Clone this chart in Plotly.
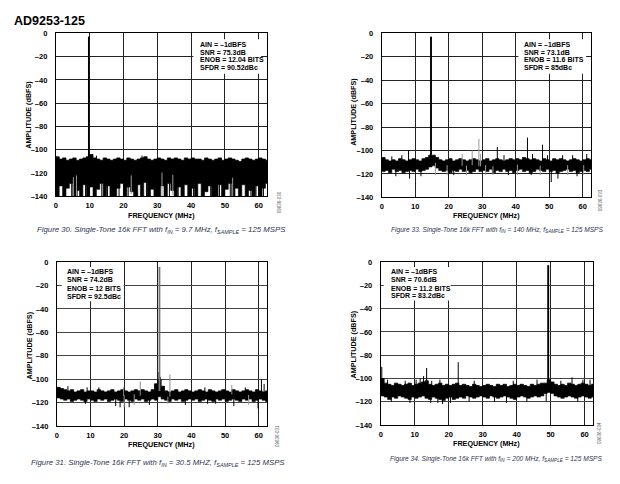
import plotly.graph_objects as go

W, H = 620, 484

# ---------------- data ----------------
freq_grid = list(range(63))  # MHz bins

# Panel A (Figure 30, fIN = 9.7 MHz)
upper_a = [-106,-108,-107,-109,-108,-107,-109,-108,-107,-106,
           -104,-107,-108,-109,-107,-108,-109,-108,-107,-108,
           -109,-107,-108,-109,-108,-107,-106,-108,-109,-108,
           -107,-108,-109,-107,-108,-107,-108,-109,-107,-108,
           -107,-108,-108,-109,-107,-108,-109,-108,-107,-109,
           -108,-107,-108,-109,-110,-108,-107,-108,-109,-108,
           -107,-108,-109]
lower_a = [-140,-131,-140,-133,-129,-140,-135,-140,-130,-140,
           -132,-140,-134,-129,-140,-131,-140,-140,-133,-129,
           -140,-132,-136,-140,-130,-140,-128,-140,-134,-140,
           -140,-131,-140,-129,-135,-140,-132,-140,-130,-140,
           -133,-140,-129,-140,-136,-131,-140,-140,-130,-140,
           -134,-129,-140,-133,-140,-130,-140,-135,-140,-131,
           -140,-133,-129]
up_a_f = [9.7, 12.0, 25.5]
up_a_v = [-2.8, -105, -105]
dn_a_f = [0.6, 2.4, 4.7, 6.3, 8.8, 11.2, 13.6, 15.3, 18.7, 21.4, 24.2, 26.8,
          29.3, 33.6, 36.2, 40.7, 43.3, 45.8, 48.4, 51.6, 54.3, 57.7, 59.2, 61.4]
dn_a_v = [-140] * len(dn_a_f)
gdn_a_f = [5.2, 6.1, 22.3, 31.4, 34.6, 52.3]
gdn_a_v = [-140, -140, -138, -140, -139, -140]

# Panel B (Figure 33, fIN = 140 MHz)
upper_b = [-106,-108,-109,-108,-109,-107,-108,-109,-108,-107,
           -108,-109,-107,-106,-104,-104,-106,-108,-109,-108,
           -107,-109,-108,-107,-108,-109,-108,-107,-108,-109,
           -108,-107,-109,-108,-107,-108,-109,-108,-107,-108,
           -107,-108,-106,-107,-108,-107,-108,-109,-107,-108,
           -109,-107,-108,-107,-108,-109,-108,-107,-108,-109,
           -108,-107,-108]
lower_b = [-118,-117,-119,-116,-118,-117,-119,-118,-117,-118,
           -116,-118,-117,-116,-114,-113,-115,-117,-118,-117,
           -119,-117,-118,-116,-118,-117,-119,-118,-116,-118,
           -117,-118,-116,-119,-117,-118,-116,-118,-117,-119,
           -117,-116,-118,-117,-119,-118,-116,-117,-118,-116,
           -118,-117,-119,-118,-117,-116,-118,-117,-119,-118,
           -117,-118,-116]
up_b_f = [14.7, 43.5, 48.0, 34.5, 8.0, 6.0, 45.0, 49.5, 57.0, 61.2, 54.0, 3.0, 36.5]
up_b_v = [-2.8, -89, -95, -97, -100, -104, -103, -104, -104, -103, -104, -105, -104]
gup_b_f = [29.0, 27.0, 24.0, 29.5]
gup_b_v = [-90, -100, -103, -103]
dn_b_f = [50.6, 52.6, 8.3, 4.2, 11.7, 21.5, 37.8, 44.6, 58.3]
dn_b_v = [-127, -124, -124, -122, -122, -121, -121, -121, -122]
gdn_b_f = [16.0, 19.5, 25.3, 31.0, 33.2, 40.5, 47.3, 55.5, 60.3]
gdn_b_v = [-121, -121, -121, -121, -121, -121, -121, -121, -121]

# Panel C (Figure 31, fIN = 30.5 MHz)
upper_c = [-107,-108,-109,-110,-109,-111,-110,-109,-111,-110,
           -110,-111,-109,-110,-111,-110,-109,-111,-110,-109,
           -110,-111,-110,-109,-110,-109,-110,-111,-109,-104,
           -100,-106,-110,-111,-110,-109,-111,-110,-109,-110,
           -111,-110,-109,-110,-111,-109,-110,-111,-110,-109,
           -110,-111,-109,-110,-111,-110,-109,-110,-111,-109,
           -110,-111,-110]
lower_c = [-116,-117,-118,-117,-119,-118,-117,-118,-119,-117,
           -118,-119,-117,-118,-117,-119,-118,-117,-118,-119,
           -117,-118,-119,-117,-118,-117,-119,-118,-117,-118,
           -115,-117,-118,-119,-117,-118,-117,-119,-118,-117,
           -118,-117,-119,-118,-117,-118,-119,-117,-118,-117,
           -119,-118,-117,-118,-119,-117,-118,-117,-119,-118,
           -117,-118,-119]
up_c_f = [30.35, 30.7, 60.8, 61.6, 3.3, 9.0, 44.0, 56.0, 12.5]
up_c_v = [-94, -98, -100, -104, -106, -107, -107, -107, -107]
gup_c_f = [30.5, 33.6, 24.8, 52.0, 19.8]
gup_c_v = [-4.2, -96, -102, -105, -107]
dn_c_f = [18.8, 17.5, 21.5, 27.5, 59.8, 38.2, 47.2, 52.6, 8.5, 44.8]
dn_c_v = [-124, -123, -124, -122, -125, -122, -121, -123, -121, -121]
gdn_c_f = [20.0, 23.0, 33.0, 57.0]
gdn_c_v = [-124, -122, -121, -122]

# Panel D (Figure 34, fIN = 200 MHz)
upper_d = [-100,-104,-105,-106,-104,-105,-106,-105,-104,-106,
           -105,-104,-103,-102,-105,-106,-105,-104,-106,-105,
           -106,-105,-104,-106,-105,-106,-107,-105,-106,-107,
           -106,-105,-106,-107,-105,-106,-105,-107,-106,-105,
           -106,-105,-106,-107,-105,-106,-105,-104,-104,-101,
           -103,-105,-106,-105,-106,-104,-105,-106,-105,-104,
           -105,-106,-105]
lower_d = [-115,-116,-118,-116,-117,-115,-116,-117,-118,-116,
           -117,-116,-115,-117,-118,-116,-117,-118,-119,-117,
           -116,-118,-117,-116,-117,-115,-116,-117,-116,-115,
           -116,-117,-115,-116,-117,-116,-115,-116,-117,-118,
           -116,-115,-116,-117,-116,-115,-116,-115,-113,-112,
           -113,-115,-116,-117,-116,-115,-116,-117,-116,-115,
           -116,-117,-116]
up_d_f = [49.3, 0.3, 13.5, 22.8, 56.3, 12.6, 11.6, 10.4, 2.0, 17.4, 39.0, 46.0,
          61.6, 7.2, 15.0, 27.5, 53.0, 59.5]
up_d_v = [-2.8, -90, -91, -86, -99, -98, -100, -101, -101, -101, -102, -101,
          -101, -102, -102, -102, -102, -101]
dn_d_f = [18.2, 16.8, 8.6, 14.7, 48.7, 43.0, 3.1, 20.5, 26.0, 33.5, 37.0, 58.0]
dn_d_v = [-122, -121, -121, -121, -120, -120, -120, -121, -120, -120, -121, -120]

x_ticks = [0, 10, 20, 30, 40, 50, 60]
y_ticks = [0, -20, -40, -60, -80, -100, -120, -140]
y_tick_text = ["0", "–20", "–40", "–60", "–80", "–100", "–120", "–140"]

notes_a = ["AIN = –1dBFS", "SNR = 75.3dB", "ENOB = 12.04 BITS", "SFDR = 90.52dBc"]
notes_b = ["AIN = –1dBFS", "SNR = 73.1dB", "ENOB = 11.6 BITS", "SFDR = 85dBc"]
notes_c = ["AIN = –1dBFS", "SNR = 74.2dB", "ENOB = 12 BITS", "SFDR = 92.5dBc"]
notes_d = ["AIN = –1dBFS", "SNR = 70.6dB", "ENOB = 11.2 BITS", "SFDR = 83.2dBc"]

captions = [
    "Figure 30. Single-Tone 16k FFT with f<sub>IN</sub> = 9.7 MHz, f<sub>SAMPLE</sub> = 125 MSPS",
    "Figure 33. Single-Tone 16k FFT with f<sub>IN</sub> = 140 MHz, f<sub>SAMPLE</sub> = 125 MSPS",
    "Figure 31. Single-Tone 16k FFT with f<sub>IN</sub> = 30.5 MHZ, f<sub>SAMPLE</sub> = 125 MSPS",
    "Figure 34. Single-Tone 16k FFT with f<sub>IN</sub> = 200 MHz, f<sub>SAMPLE</sub> = 125 MSPS",
]
fig_codes = ["09636-030", "09636-033", "09636-031", "09636-034"]

# ---------------- layout helpers ----------------
def px(x):
    return x / W

def py(y):
    return 1 - y / H

FONT = "Liberation Sans, Arial, sans-serif"

# plot-area pixel boxes: (left, right, top, bottom)
boxes = [(54, 266, 30, 196), (381, 591, 30, 197), (55, 266, 263, 430), (380, 593, 263, 429)]

panels = [
    dict(U=upper_a, L=lower_a, up=[(up_a_f, up_a_v, "black")], dn=[(dn_a_f, dn_a_v, "black"), (gdn_a_f, gdn_a_v, "#9a9a9a")]),
    dict(U=upper_b, L=lower_b, up=[(up_b_f, up_b_v, "black"), (gup_b_f, gup_b_v, "#9a9a9a")], dn=[(dn_b_f, dn_b_v, "black"), (gdn_b_f, gdn_b_v, "#9a9a9a")]),
    dict(U=upper_c, L=lower_c, up=[(up_c_f, up_c_v, "black"), (gup_c_f, gup_c_v, "#8a8a8a")], dn=[(dn_c_f, dn_c_v, "black"), (gdn_c_f, gdn_c_v, "#9a9a9a")]),
    dict(U=upper_d, L=lower_d, up=[(up_d_f, up_d_v, "black")], dn=[(dn_d_f, dn_d_v, "black")]),
]

fig = go.Figure()
layout_axes = {}

for i, (p, box) in enumerate(zip(panels, boxes)):
    n = "" if i == 0 else str(i + 1)
    xa, ya = "x" + n, "y" + n
    U, L = p["U"], p["L"]
    xs = freq_grid + [62.5]
    Ue = U + [U[-1]]
    Le = L + [L[-1]]
    fig.add_trace(go.Scatter(x=xs, y=Le, mode="lines", line=dict(color="black", width=0.6, shape="hv"),
                             xaxis=xa, yaxis=ya, showlegend=False, hoverinfo="skip"))
    fig.add_trace(go.Scatter(x=xs, y=Ue, mode="lines", line=dict(color="black", width=0.8, shape="hv"),
                             fill="tonexty", fillcolor="black",
                             xaxis=xa, yaxis=ya, showlegend=False, hoverinfo="skip"))
    # spikes
    for fl, vl, col in p["up"] + p["dn"]:
        sx, sy = [], []
        for f, v in zip(fl, vl):
            k = min(int(f), len(U) - 1)
            base = (U[k] + L[k]) / 2
            sx += [f, f, None]
            sy += [base, v, None]
        fig.add_trace(go.Scatter(x=sx, y=sy, mode="lines", line=dict(color=col, width=1),
                                 xaxis=xa, yaxis=ya, showlegend=False, hoverinfo="skip"))
    l, r, t, b = box
    axis_font = dict(family=FONT, size=7.5, color="black", weight="bold")
    layout_axes["xaxis" + n] = dict(domain=[px(l), px(r)], anchor=ya, range=[0, 62.5],
                                    tickvals=x_ticks, tickfont=axis_font, showgrid=True,
                                    gridcolor="#222222", gridwidth=1, zeroline=False,
                                    showline=True, linecolor="black", linewidth=1, mirror=True,
                                    ticks="", ticklabelstandoff=2, fixedrange=True)
    layout_axes["yaxis" + n] = dict(domain=[py(b), py(t)], anchor=xa, range=[-140, 0],
                                    tickvals=y_ticks, ticktext=y_tick_text, tickfont=axis_font,
                                    showgrid=True, gridcolor="#222222" if i < 2 else "#444444",
                                    gridwidth=1, zeroline=False, showline=True, linecolor="black",
                                    linewidth=1, mirror=True, ticks="", ticklabelstandoff=6,
                                    fixedrange=True)

fig.update_layout(**layout_axes)

# main tones drawn bolder
for (f, v), i in [((up_a_f[0], up_a_v[0]), 0), ((up_b_f[0], up_b_v[0]), 1),
                  ((gup_c_f[0], gup_c_v[0]), 2), ((up_d_f[0], up_d_v[0]), 3)]:
    n = "" if i == 0 else str(i + 1)
    fig.add_trace(go.Scatter(x=[f, f], y=[-110, v], mode="lines",
                             line=dict(color="#777777" if i == 2 else "black", width=1.8 if i != 0 else 1.3),
                             xaxis="x" + n, yaxis="y" + n, showlegend=False, hoverinfo="skip"))

shapes = []
annotations = []

# note boxes (pixel rects) and text lines
note_boxes = [(192, 260, 36, 71, 197, [41, 49, 57, 65], notes_a),
              (518, 586, 36, 71, 522, [41, 49, 57, 65], notes_b),
              (60, 122, 268, 303, 63, [273, 281, 290, 298], notes_c),
              (383, 450, 268, 302, 388, [273, 281, 290, 297], notes_d)]
for (x0, x1, y0, y1, tx, tys, notes) in note_boxes:
    shapes.append(dict(type="rect", xref="paper", yref="paper", x0=px(x0), x1=px(x1),
                       y0=py(y1), y1=py(y0), fillcolor="white", line=dict(width=0), layer="above"))
    for ty, txt in zip(tys, notes):
        annotations.append(dict(xref="paper", yref="paper", x=px(tx), y=py(ty), text=txt,
                                showarrow=False, xanchor="left", yanchor="middle",
                                font=dict(family=FONT, size=7, color="black", weight="bold")))

# axis titles
freq_pos = [(160, 215), (486, 215), (160, 449), (486, 448)]
amp_pos = [(27, 113), (353, 110), (28, 348), (353, 347)]
for (fx, fy), (ax, ay) in zip(freq_pos, amp_pos):
    annotations.append(dict(xref="paper", yref="paper", x=px(fx), y=py(fy), text="FREQUENCY (MHz)",
                            showarrow=False, xanchor="center", yanchor="middle",
                            font=dict(family=FONT, size=7.2, color="black", weight="bold")))
    annotations.append(dict(xref="paper", yref="paper", x=px(ax), y=py(ay), text="AMPLITUDE (dBFS)",
                            showarrow=False, xanchor="center", yanchor="middle", textangle=-90,
                            font=dict(family=FONT, size=7.2, color="black", weight="bold")))

# captions
cap_pos = [(33, 230, "left"), (605, 230, "right"), (27, 468, "left"), (604, 464, "right")]
cap_sizes = [7.8, 6.6, 7.8, 6.6]
for (cx, cy, anc), txt, cs in zip(cap_pos, captions, cap_sizes):
    annotations.append(dict(xref="paper", yref="paper", x=px(cx), y=py(cy), text="<i>" + txt + "</i>",
                            showarrow=False, xanchor=anc, yanchor="middle",
                            font=dict(family=FONT, size=cs, color="#2c3550")))

# figure codes
code_pos = [(278, 202), (600, 200), (277, 440), (600, 437)]
for (cx, cy), txt in zip(code_pos, fig_codes):
    annotations.append(dict(xref="paper", yref="paper", x=px(cx), y=py(cy), text=txt,
                            showarrow=False, xanchor="center", yanchor="middle", textangle=-90,
                            font=dict(family=FONT, size=4.5, color="#555555")))

# page title
annotations.append(dict(xref="paper", yref="paper", x=px(10), y=py(17), text="<b>AD9253-125</b>",
                        showarrow=False, xanchor="left", yanchor="middle",
                        font=dict(family=FONT, size=12.5, color="black")))

fig.update_layout(width=W, height=H, margin=dict(l=0, r=0, t=0, b=0),
                  paper_bgcolor="white", plot_bgcolor="white",
                  shapes=shapes, annotations=annotations, showlegend=False)

fig.write_html("out.html")
